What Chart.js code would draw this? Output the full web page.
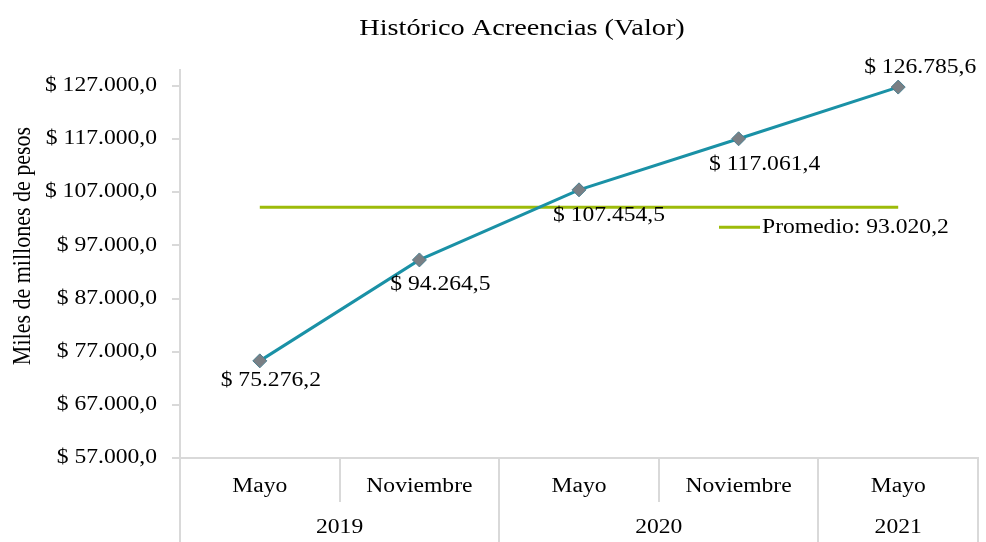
<!DOCTYPE html>
<html>
<head>
<meta charset="utf-8">
<script src="https://cdn.jsdelivr.net/npm/chart.js@4"></script>
<style>
html,body{margin:0;padding:0;background:#fff;}
#wrap{width:986px;height:542px;position:relative;}
</style>
</head>
<body>
<div id="wrap"><canvas id="c" width="986" height="542"></canvas></div>
<script>
const chartTitle = 'Histórico Acreencias (Valor)';
const yTitle = 'Miles de millones de pesos';
const months = ['Mayo', 'Noviembre', 'Mayo', 'Noviembre', 'Mayo'];
const years = ['2019', '2020', '2021'];
const yearSpans = [2, 2, 1];
const values = [75276.2, 94264.5, 107454.5, 117061.4, 126785.6];
const valueLabels = ['$ 75.276,2', '$ 94.264,5', '$ 107.454,5', '$ 117.061,4', '$ 126.785,6'];
const averageValue = 104168.4;
const averageLabel = 'Promedio: 93.020,2';
const yTickValues = [57000, 67000, 77000, 87000, 97000, 107000, 117000, 127000];
const yMin = 57000;
const yMax = 130000;

const FONT = "'Liberation Serif', 'Times New Roman', serif";
const GRID = '#d9d9d9';
const TEAL = '#1a91a6';
const GREEN = '#9dbb0a';
const SX = 1.18; // horizontal text stretch of the original

function fmtTick(v) {
  const s = Math.round(v).toString().replace(/\B(?=(\d{3})+(?!\d))/g, '.');
  return '$ ' + s + ',0';
}

function txt(ctx, s, x, y, align, size) {
  ctx.save();
  ctx.translate(x, y);
  ctx.scale(SX, 1);
  ctx.font = size + 'px ' + FONT;
  ctx.textAlign = align;
  ctx.textBaseline = 'middle';
  ctx.fillStyle = '#000';
  ctx.fillText(s, 0, 0);
  ctx.restore();
}

// label offsets relative to each point (style only)
const labelOffsets = [[11, 20], [21, 25], [30, 26], [26, 26], [22, -19]];

const extras = {
  id: 'extras',
  afterDraw(chart) {
    const ctx = chart.ctx;
    const x = chart.scales.x;
    const y = chart.scales.y;
    ctx.save();
    // title
    txt(ctx, chartTitle, 522, 29, 'center', 24);
    // y title
    ctx.save();
    ctx.translate(23, 246);
    ctx.rotate(-Math.PI / 2);
    ctx.scale(1, SX);
    ctx.font = '22px ' + FONT;
    ctx.textAlign = 'center';
    ctx.textBaseline = 'middle';
    ctx.fillStyle = '#000';
    ctx.fillText(yTitle, 0, 0);
    ctx.restore();

    // y tick labels
    y.ticks.forEach(t => {
      txt(ctx, fmtTick(t.value), 157, y.getPixelForValue(t.value), 'right', 20);
    });

    // x dividers
    ctx.strokeStyle = GRID;
    ctx.lineWidth = 2;
    const bottomAxis = y.bottom;
    const n = months.length;
    const bounds = [];
    for (let i = 0; i <= n; i++) {
      let px;
      if (i === 0) px = x.left;
      else if (i === n) px = x.right;
      else px = (x.getPixelForValue(i - 1) + x.getPixelForValue(i)) / 2;
      bounds.push(px);
    }
    const yearBounds = [0];
    let acc = 0;
    yearSpans.forEach(s => { acc += s; yearBounds.push(acc); });
    for (let i = 0; i <= n; i++) {
      const full = yearBounds.includes(i);
      ctx.beginPath();
      ctx.moveTo(Math.round(bounds[i]), bottomAxis);
      ctx.lineTo(Math.round(bounds[i]), full ? chart.height : bottomAxis + 44);
      ctx.stroke();
    }
    // month labels
    months.forEach((m, i) => {
      txt(ctx, m, x.getPixelForValue(i), 487, 'center', 20);
    });
    // year labels
    for (let k = 0; k < years.length; k++) {
      const cx = (bounds[yearBounds[k]] + bounds[yearBounds[k + 1]]) / 2;
      txt(ctx, years[k], cx, 528, 'center', 20);
    }

    // data labels
    const meta = chart.getDatasetMeta(0);
    meta.data.forEach((pt, i) => {
      const o = labelOffsets[i];
      txt(ctx, valueLabels[i], pt.x + o[0], pt.y + o[1], 'center', 20);
    });

    // legend
    const ly = y.getPixelForValue(averageValue) + 20;
    ctx.strokeStyle = GREEN;
    ctx.lineWidth = 3;
    ctx.beginPath();
    ctx.moveTo(719, ly);
    ctx.lineTo(760, ly);
    ctx.stroke();
    txt(ctx, averageLabel, 762, ly, 'left', 20);
    ctx.restore();
  }
};

new Chart(document.getElementById('c'), {
  type: 'line',
  data: {
    labels: months,
    datasets: [
      {
        label: 'Acreencias',
        data: values,
        borderColor: TEAL,
        borderWidth: 3,
        pointStyle: 'rectRot',
        pointRadius: 7,
        pointBackgroundColor: '#7a7f84',
        pointBorderColor: '#4a7f90',
        pointBorderWidth: 1,
        tension: 0,
        order: 1
      },
      {
        label: averageLabel,
        data: values.map(() => averageValue),
        borderColor: GREEN,
        borderWidth: 3,
        pointRadius: 0,
        order: 2
      }
    ]
  },
  options: {
    responsive: false,
    animation: false,
    layout: { padding: { top: 70, right: 5, left: 0, bottom: 0 } },
    plugins: {
      legend: { display: false },
      title: { display: false },
      tooltip: { enabled: false }
    },
    scales: {
      x: {
        type: 'category',
        offset: true,
        grid: { display: false, drawTicks: false },
        border: { display: true, color: GRID, width: 2 },
        ticks: { display: false },
        afterFit(s) { s.height = 84; }
      },
      y: {
        min: yMin,
        max: yMax,
        afterBuildTicks(s) { s.ticks = yTickValues.map(v => ({ value: v })); },
        grid: { drawOnChartArea: false, drawTicks: true, tickLength: 8, color: GRID, lineWidth: 2 },
        border: { display: true, color: GRID, width: 2 },
        ticks: { display: false },
        afterFit(s) { s.width = 180; }
      }
    }
  },
  plugins: [extras]
});
</script>
</body>
</html>
